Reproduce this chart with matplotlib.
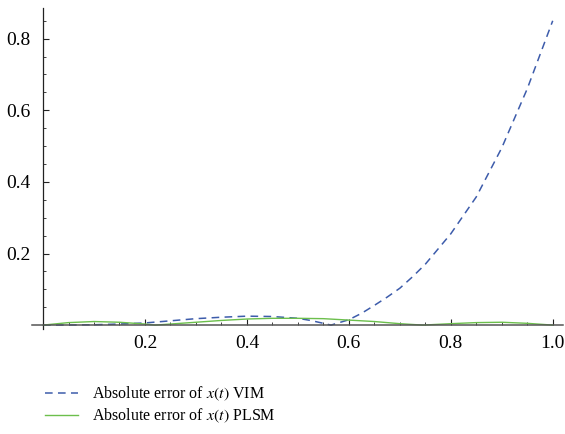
import numpy as np
import matplotlib.pyplot as plt
from matplotlib.ticker import MultipleLocator

plt.rcParams["font.family"] = ["Liberation Serif", "DejaVu Serif"]
plt.rcParams["mathtext.fontset"] = "stix"

# absolute error of x(t), VIM
t_vim = [0.0, 0.05, 0.1, 0.15, 0.2, 0.25, 0.3, 0.35, 0.4, 0.45, 0.5, 0.525,
         0.55, 0.565, 0.6, 0.625, 0.65, 0.675, 0.7, 0.725, 0.75, 0.8, 0.85,
         0.9, 0.95, 1.0]
err_vim = [0.0, 0.0003, 0.001, 0.003, 0.006, 0.012, 0.018, 0.022, 0.025, 0.024,
           0.019, 0.013, 0.005, 0.0, 0.015, 0.033, 0.055, 0.078, 0.103, 0.135,
           0.17, 0.255, 0.358, 0.495, 0.66, 0.85]

# absolute error of x(t), PLSM
t_plsm = [0.0, 0.05, 0.1, 0.15, 0.2, 0.22, 0.25, 0.3, 0.35, 0.4, 0.45, 0.5,
          0.55, 0.6, 0.65, 0.7, 0.745, 0.8, 0.85, 0.9, 0.95, 1.0]
err_plsm = [0.0, 0.007, 0.010, 0.008, 0.003, 0.0, 0.003, 0.008, 0.013, 0.017,
            0.019, 0.019, 0.018, 0.014, 0.010, 0.004, 0.0, 0.004, 0.007, 0.008,
            0.005, 0.0]

fig = plt.figure(figsize=(5.65, 4.34), dpi=100)
ax = fig.add_axes([0.0563, 0.241, 0.940, 0.740])

ax.plot(t_vim, err_vim, color="#3d5cab", lw=1.1, dashes=(5, 3.5),
        label=r"Absolute error of $x(t)$ VIM")
ax.plot(t_plsm, err_plsm, color="#6cbf4c", lw=1.0,
        label=r"Absolute error of $x(t)$ PLSM")

ax.set_xlim(-0.022, 1.02)
ax.set_ylim(-0.012, 0.885)

for s in ["top", "right"]:
    ax.spines[s].set_visible(False)
ax.spines["left"].set_position(("data", 0))
ax.spines["bottom"].set_position(("data", 0))
ax.spines["left"].set_color("#222222")
ax.spines["bottom"].set_color("#555555")
ax.spines["left"].set_linewidth(0.9)
ax.spines["bottom"].set_linewidth(1.1)

ax.set_xticks([0.2, 0.4, 0.6, 0.8, 1.0])
ax.set_xticklabels(["0.2", "0.4", "0.6", "0.8", "1.0"])
ax.set_yticks([0.2, 0.4, 0.6, 0.8])
ax.set_yticklabels(["0.2", "0.4", "0.6", "0.8"])
ax.xaxis.set_minor_locator(MultipleLocator(0.05))
ax.yaxis.set_minor_locator(MultipleLocator(0.05))
ax.tick_params(which="major", direction="in", length=4, width=0.8,
               labelsize=14, color="#222222")
ax.tick_params(which="minor", direction="in", length=2.2, width=0.6,
               color="#222222")
ax.tick_params(axis="x", pad=7)
ax.tick_params(axis="y", pad=9)

fig.legend(loc="upper left", bbox_to_anchor=(0.079, 0.113), frameon=False,
           fontsize=11.5, handlelength=2.1, handletextpad=0.85,
           labelspacing=0.2, borderaxespad=0, borderpad=0)

fig.savefig("out.png", dpi=100)
